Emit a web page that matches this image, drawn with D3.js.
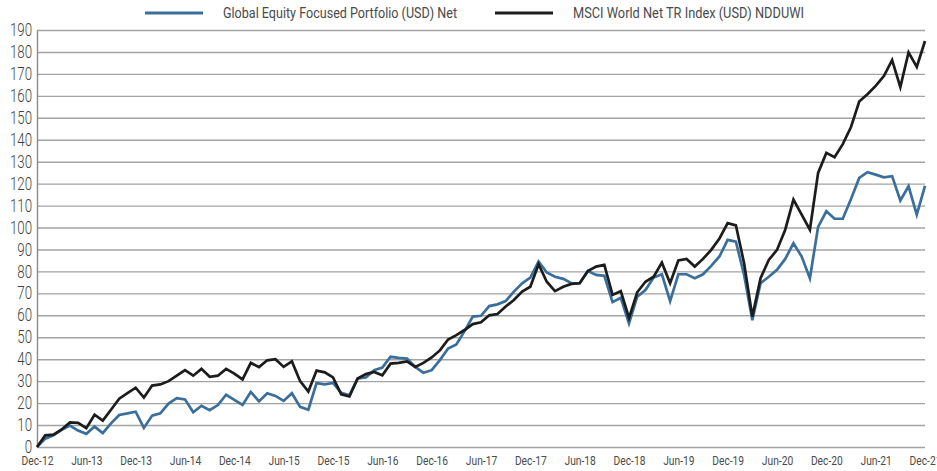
<!DOCTYPE html>
<html>
<head>
<meta charset="utf-8">
<script src="https://cdn.jsdelivr.net/npm/d3@7"></script>
<style>
  html, body { margin: 0; padding: 0; background: #fff; }
  svg { display: block; }
  text { font-family: Roboto, "Liberation Sans", sans-serif; }
</style>
</head>
<body>
<svg id="chart" width="937" height="471"></svg>
<script>
// month labels every 6 months, Dec-12 .. Dec-21 (109 monthly points)
const tickLabels = ["Dec-12", "Jun-13", "Dec-13", "Jun-14", "Dec-14", "Jun-15", "Dec-15",
  "Jun-16", "Dec-16", "Jun-17", "Dec-17", "Jun-18", "Dec-18", "Jun-19", "Dec-19",
  "Jun-20", "Dec-20", "Jun-21", "Dec-21"];

const yTicks = d3.range(0, 191, 10);

const seriesNames = ["Global Equity Focused Portfolio (USD) Net", "MSCI World Net TR Index (USD) NDDUWI"];

const portfolio = [
  0, 3.8, 5.3, 7.8, 9.8, 7.5, 6, 9.3, 6.3, 10.8, 14.6, 15.3, 16.1,
  8.7, 14.3, 15.3, 19.8, 22.3, 21.7, 15.8, 18.8, 16.8, 19.1, 23.8, 21.5,
  19.2, 25.1, 20.8, 24.5, 23.3, 21, 24.5, 18.3, 17, 29.1, 28.5, 29.2,
  24.7, 23.6, 31.2, 31.7, 35, 36.2, 41.1, 40.6, 40.3, 36.5, 33.8, 35,
  39.6, 44.9, 46.7, 52.8, 59.4, 59.8, 64.2, 65, 66.5, 70.8, 74.6, 77.2,
  84.5, 79.5, 77.6, 76.6, 74.6, 74.6, 80.2, 78.4, 78, 66, 68, 56.3,
  68.5, 71.5, 77.2, 78.7, 66.5, 78.7, 78.7, 76.9, 78.7, 82.5, 86.8, 94.4,
  93.6, 78.4, 57.8, 74.6, 77.6, 80.7, 85.7, 92.8, 86.8, 76.9, 100.3, 107.4,
  104, 104, 113, 122.6, 125.2, 124.1, 122.9, 123.4, 112.3, 118.8, 105.9, 119
];

const msciWorld = [
  0, 5.3, 5.6, 8, 11.2, 11, 8.6, 14.7, 12, 17, 22, 24.5, 27,
  22.5, 28, 28.5, 30, 32.5, 35, 32.5, 35.6, 32, 32.5, 35.6, 33.4,
  30.8, 38.3, 36.4, 39.5, 40, 36.5, 39, 30, 25.3, 34.8, 34, 31.7,
  24, 23, 31.2, 33.2, 34.2, 32.7, 38, 38.3, 39, 36.5, 38.3, 40.8,
  44, 49, 51, 53.3, 56, 56.8, 60, 60.6, 64, 67, 70.8, 73,
  83.3, 75.3, 71, 73, 74.3, 74.6, 80.2, 82.2, 83, 69.3, 71, 58.8,
  70.5, 75.3, 77.6, 84, 74.6, 85, 85.7, 82.2, 85.7, 89.8, 95, 102,
  101, 83.7, 59.4, 76.9, 85.2, 89.8, 99, 112.7, 105.9, 99, 124.9, 134,
  132, 138, 145.8, 157.4, 160.7, 164.5, 169, 176.3, 164, 179.8, 173.2, 185
];

const colors = ["#3a6f9c", "#1c1c1c"];

const svg = d3.select("#chart");
const width = 937;
const height = 471;
const margin = { top: 30, right: 12, bottom: 24, left: 37 };
const innerW = width - margin.left - margin.right;
const innerH = height - margin.top - margin.bottom;

const g = svg.append("g").attr("transform", `translate(${margin.left},${margin.top})`);

const x = d3.scaleLinear().domain([0, portfolio.length - 1]).range([0, innerW]);
const y = d3.scaleLinear().domain([0, 190]).range([innerH, 0]);

// horizontal gridlines
g.append("g")
  .attr("class", "grid")
  .call(d3.axisLeft(y).tickValues(yTicks).tickSize(-innerW).tickFormat(""))
  .call((s) => s.select(".domain").remove())
  .call((s) => s.selectAll("line").attr("stroke", "#a3a3a3").attr("stroke-width", 1.4));

// left axis line + labels (condensed look via horizontal squeeze)
const yAxisG = g.append("g")
  .call(d3.axisLeft(y).tickValues(yTicks).tickSize(0).tickPadding(6.5).tickFormat(d3.format("d")));
yAxisG.select(".domain").attr("stroke", "#8a8a8a").attr("stroke-width", 1.4);
yAxisG.selectAll("text")
  .attr("font-size", 17.5)
  .attr("font-weight", 300)
  .attr("fill", "#3f3f3f")
  .attr("transform", "scale(0.76,1)");

// x axis labels
const xAxisG = g.append("g")
  .attr("transform", `translate(0,${innerH})`)
  .call(d3.axisBottom(x)
    .tickValues(tickLabels.map((d, i) => i * 6))
    .tickSize(0)
    .tickPadding(9)
    .tickFormat((d) => tickLabels[d / 6]));
xAxisG.select(".domain").remove();
xAxisG.selectAll("text")
  .attr("font-size", 12.5)
  .attr("fill", "#4a4a4a")
  .attr("transform", "scale(0.82,1)");

const line = d3.line().x((d, i) => x(i)).y((d) => y(d));

[portfolio, msciWorld].forEach((vals, k) => {
  g.append("path")
    .datum(vals)
    .attr("fill", "none")
    .attr("stroke", colors[k])
    .attr("stroke-width", 2.7)
    .attr("stroke-linejoin", "miter")
    .attr("d", line);
});

// legend
const legendPos = [145, 495];
const legendTextW = [234, 231];
seriesNames.forEach((name, k) => {
  const lg = svg.append("g").attr("transform", `translate(${legendPos[k]},13)`);
  lg.append("line")
    .attr("x1", 0).attr("x2", 58)
    .attr("stroke", colors[k])
    .attr("stroke-width", 3);
  lg.append("text")
    .attr("x", 78)
    .attr("y", 5)
    .attr("font-size", 14)
    .attr("fill", "#4a4a4a")
    .attr("textLength", legendTextW[k])
    .attr("lengthAdjust", "spacingAndGlyphs")
    .text(name);
});
</script>
</body>
</html>
